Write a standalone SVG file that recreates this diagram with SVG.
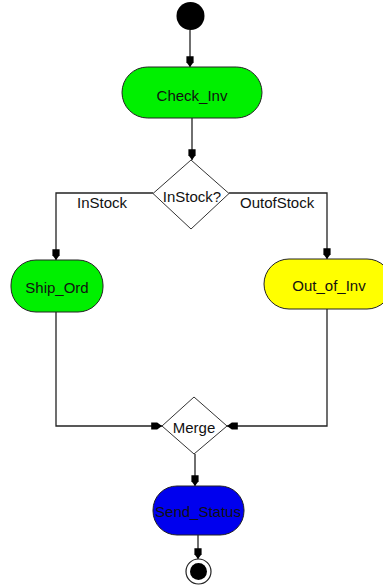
<svg xmlns="http://www.w3.org/2000/svg" width="383" height="585" viewBox="0 0 383 585">
  <style>
    .act { stroke: #222; stroke-width: 1; }
    .dec { fill: #fff; stroke: #333; stroke-width: 1; }
    .lbl { font-family: "Liberation Sans", Arial, sans-serif; font-size: 15px; fill: #111; text-anchor: middle; }
    .edge { fill: none; stroke: #222; stroke-width: 1.3; }
    .guard { font-family: "Liberation Sans", Arial, sans-serif; font-size: 15px; fill: #111; }
  </style>
  <defs>
    <marker id="head" markerUnits="userSpaceOnUse" markerWidth="12" markerHeight="10" refX="9" refY="0" viewBox="0 -4 10 8" orient="auto">
      <path d="M0,-3 H5 L9,0 L5,3 H0 Z" fill="#000"/>
    </marker>
  </defs>

  <rect width="383" height="585" fill="#fff"/>

  <!-- connectors -->
  <g id="connectors">
    <path class="edge" d="M190,30 V67" marker-end="url(#head)"/>
    <path class="edge" d="M192,118 V160" marker-end="url(#head)"/>
    <path class="edge" d="M153,193 H56 V260" marker-end="url(#head)"/>
    <path class="edge" d="M229,193 H327 V259" marker-end="url(#head)"/>
    <path class="edge" d="M56,312 V426 H162" marker-end="url(#head)"/>
    <path class="edge" d="M327,309 V426 H227" marker-end="url(#head)"/>
    <path class="edge" d="M195,454 V486" marker-end="url(#head)"/>
    <path class="edge" d="M198,535 V559" marker-end="url(#head)"/>
    <text class="guard" x="77" y="208">InStock</text>
    <text class="guard" x="240" y="208">OutofStock</text>
  </g>

  <!-- initial state -->
  <g id="start">
    <circle cx="190.5" cy="16" r="14" fill="#000"/>
  </g>

  <g id="Check_Inv">
    <rect class="act" x="122" y="67" width="140" height="51" rx="25.5" fill="#00f000"/>
    <text class="lbl" x="192" y="101">Check_Inv</text>
  </g>

  <g id="InStock">
    <polygon class="dec" points="191,160 229,193.5 191,229 153,193.5"/>
    <text class="lbl" x="192" y="202">InStock?</text>
  </g>

  <g id="Ship_Ord">
    <rect class="act" x="11" y="260" width="92" height="52" rx="25" fill="#00f000"/>
    <text class="lbl" x="57" y="293">Ship_Ord</text>
  </g>

  <g id="Out_of_Inv">
    <rect class="act" x="264" y="259" width="128" height="50" rx="25" fill="#ffff00"/>
    <text class="lbl" x="329" y="291">Out_of_Inv</text>
  </g>

  <g id="Merge">
    <polygon class="dec" points="194,397 227,426 194,454 162,426"/>
    <text class="lbl" x="194" y="433">Merge</text>
  </g>

  <g id="Send_Status">
    <rect class="act" x="153" y="486" width="91" height="49" rx="24" fill="#0000ee"/>
    <text class="lbl" x="198" y="517">Send_Status</text>
  </g>

  <!-- final state -->
  <g id="end">
    <circle cx="198.5" cy="571.5" r="12.5" fill="#fff" stroke="#222" stroke-width="1.2"/>
    <circle cx="198.5" cy="571.5" r="8.5" fill="#000"/>
  </g>
</svg>
